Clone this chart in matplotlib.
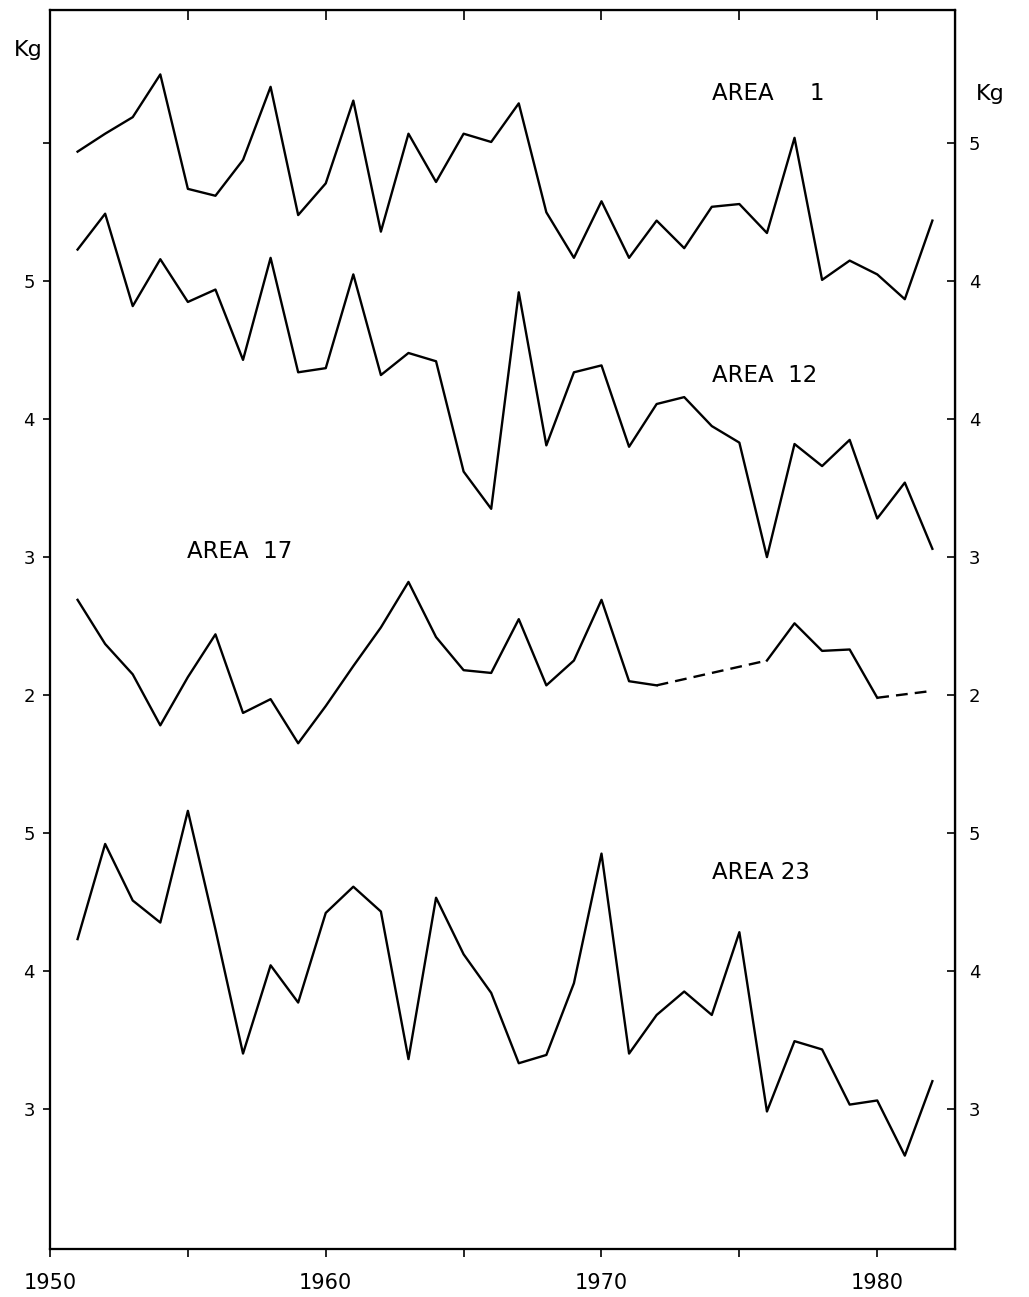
import numpy as np
import matplotlib
matplotlib.use("Agg")
import matplotlib.pyplot as plt

# data (kg)
years = list(range(1951, 1983))

area1 = [4.94, 5.07, 5.19, 5.50, 4.67, 4.62, 4.88, 5.41, 4.48, 4.71,
         5.31, 4.36, 5.07, 4.72, 5.07, 5.01, 5.29, 4.50, 4.17, 4.58,
         4.17, 4.44, 4.24, 4.54, 4.56, 4.35, 5.04, 4.01, 4.15, 4.05,
         3.87, 4.44]
area12 = [5.23, 5.49, 4.82, 5.16, 4.85, 4.94, 4.43, 5.17, 4.34, 4.37,
          5.05, 4.32, 4.48, 4.42, 3.62, 3.35, 4.92, 3.81, 4.34, 4.39,
          3.80, 4.11, 4.16, 3.95, 3.83, 3.00, 3.82, 3.66, 3.85, 3.28,
          3.54, 3.06]
# missing years are None; they are bridged with a dashed line
area17 = [2.69, 2.37, 2.15, 1.78, 2.13, 2.44, 1.87, 1.97, 1.65, 1.92,
          2.21, 2.49, 2.82, 2.42, 2.18, 2.16, 2.55, 2.07, 2.25, 2.69,
          2.10, 2.07, None, None, None, 2.25, 2.52, 2.32, 2.33, 1.98,
          None, 2.03]
area23 = [4.23, 4.92, 4.51, 4.35, 5.16, 4.30, 3.40, 4.04, 3.77, 4.42,
          4.61, 4.43, 3.36, 4.53, 4.12, 3.84, 3.33, 3.39, 3.91, 4.85,
          3.40, 3.68, 3.85, 3.68, 4.28, 2.98, 3.49, 3.43, 3.03, 3.06,
          2.66, 3.20]

x_ticks = [1950, 1955, 1960, 1965, 1970, 1975, 1980]
x_labels = ["1950", "", "1960", "", "1970", "", "1980"]

W, H = 1029, 1297
LW = 1.7
plt.rcParams["font.family"] = "DejaVu Sans"


def plot_gappy(ax, xs, ys):
    xs = np.array(xs, dtype=float)
    ys = np.array([np.nan if v is None else v for v in ys], dtype=float)
    ax.plot(xs, ys, color="black", lw=LW)
    ok = np.where(~np.isnan(ys))[0]
    for a, b in zip(ok[:-1], ok[1:]):
        if b - a > 1:
            ax.plot([xs[a], xs[b]], [ys[a], ys[b]], color="black", lw=LW,
                    linestyle=(0, (5, 3)))


def main():
    fig = plt.figure(figsize=(W / 100, H / 100), dpi=100)
    left, right, top, bottom = 50, 955, 10, 1249
    ax = fig.add_axes([left / W, 1 - bottom / H, (right - left) / W,
                       (bottom - top) / H])

    # main scale (areas 12 and 17); area 1 sits one unit lower on its own
    # scale, area 23 four units higher
    ylim = (-2.017, 6.967)
    ax.set_xlim(1950, 1982.82)
    ax.set_ylim(*ylim)

    ax1 = ax.twinx()
    ax1.set_ylim(ylim[0] - 1, ylim[1] - 1)
    ax23 = ax.twinx()
    ax23.set_ylim(ylim[0] + 4, ylim[1] + 4)

    ax1.plot(years, area1, color="black", lw=LW)
    ax.plot(years, area12, color="black", lw=LW)
    plot_gappy(ax, years, area17)
    ax23.plot(years, area23, color="black", lw=LW)

    for a in (ax, ax1, ax23):
        for s in a.spines.values():
            s.set_linewidth(1.5)

    # x axis
    ax.set_xticks(x_ticks)
    ax.set_xticklabels(x_labels)
    ax.tick_params(axis="x", direction="out", length=6, width=1.2,
                   labelsize=15, pad=11)
    top_ax = ax.secondary_xaxis("top")
    top_ax.set_xticks(x_ticks[1:])
    top_ax.tick_params(axis="x", direction="in", length=7, width=1.2,
                       labeltop=False)

    # left ticks
    ax.set_yticks([6, 5, 4, 3, 2])
    ax.set_yticklabels(["", "5", "4", "3", "2"])
    ax.tick_params(axis="y", direction="out", length=5, width=1.2,
                   labelsize=13, pad=6)
    ax23.yaxis.tick_left()
    ax23.set_yticks([5, 4, 3])
    ax23.tick_params(axis="y", direction="out", length=5, width=1.2,
                     labelsize=13, pad=6)

    # right ticks
    ax1.set_yticks([5, 4])
    ax1.tick_params(axis="y", direction="in", length=6, width=1.2,
                    labelsize=13, pad=10)
    r12 = ax.secondary_yaxis("right")
    r12.set_yticks([4, 3, 2])
    r12.tick_params(axis="y", direction="in", length=6, width=1.2,
                    labelsize=13, pad=10)
    r23 = ax23.secondary_yaxis("right")
    r23.set_yticks([5, 4, 3])
    r23.tick_params(axis="y", direction="in", length=6, width=1.2,
                    labelsize=13, pad=10)

    # labels
    fig.text(28 / W, 1 - 56 / H, "Kg", ha="center", va="baseline",
             fontsize=16)
    fig.text(990 / W, 1 - 100 / H, "Kg", ha="center", va="baseline",
             fontsize=16)
    ax1.text(1974.0, 5.36, "AREA     1", ha="left", va="center",
             fontsize=16.5)
    ax.text(1974.0, 4.32, "AREA  12", ha="left", va="center", fontsize=16.5)
    ax.text(1954.97, 3.04, "AREA  17", ha="left", va="center",
            fontsize=16.5)
    ax23.text(1974.0, 4.71, "AREA 23", ha="left", va="center",
              fontsize=16.5)

    fig.savefig("out.png", dpi=100)
    plt.close(fig)


if __name__ == "__main__":
    main()
